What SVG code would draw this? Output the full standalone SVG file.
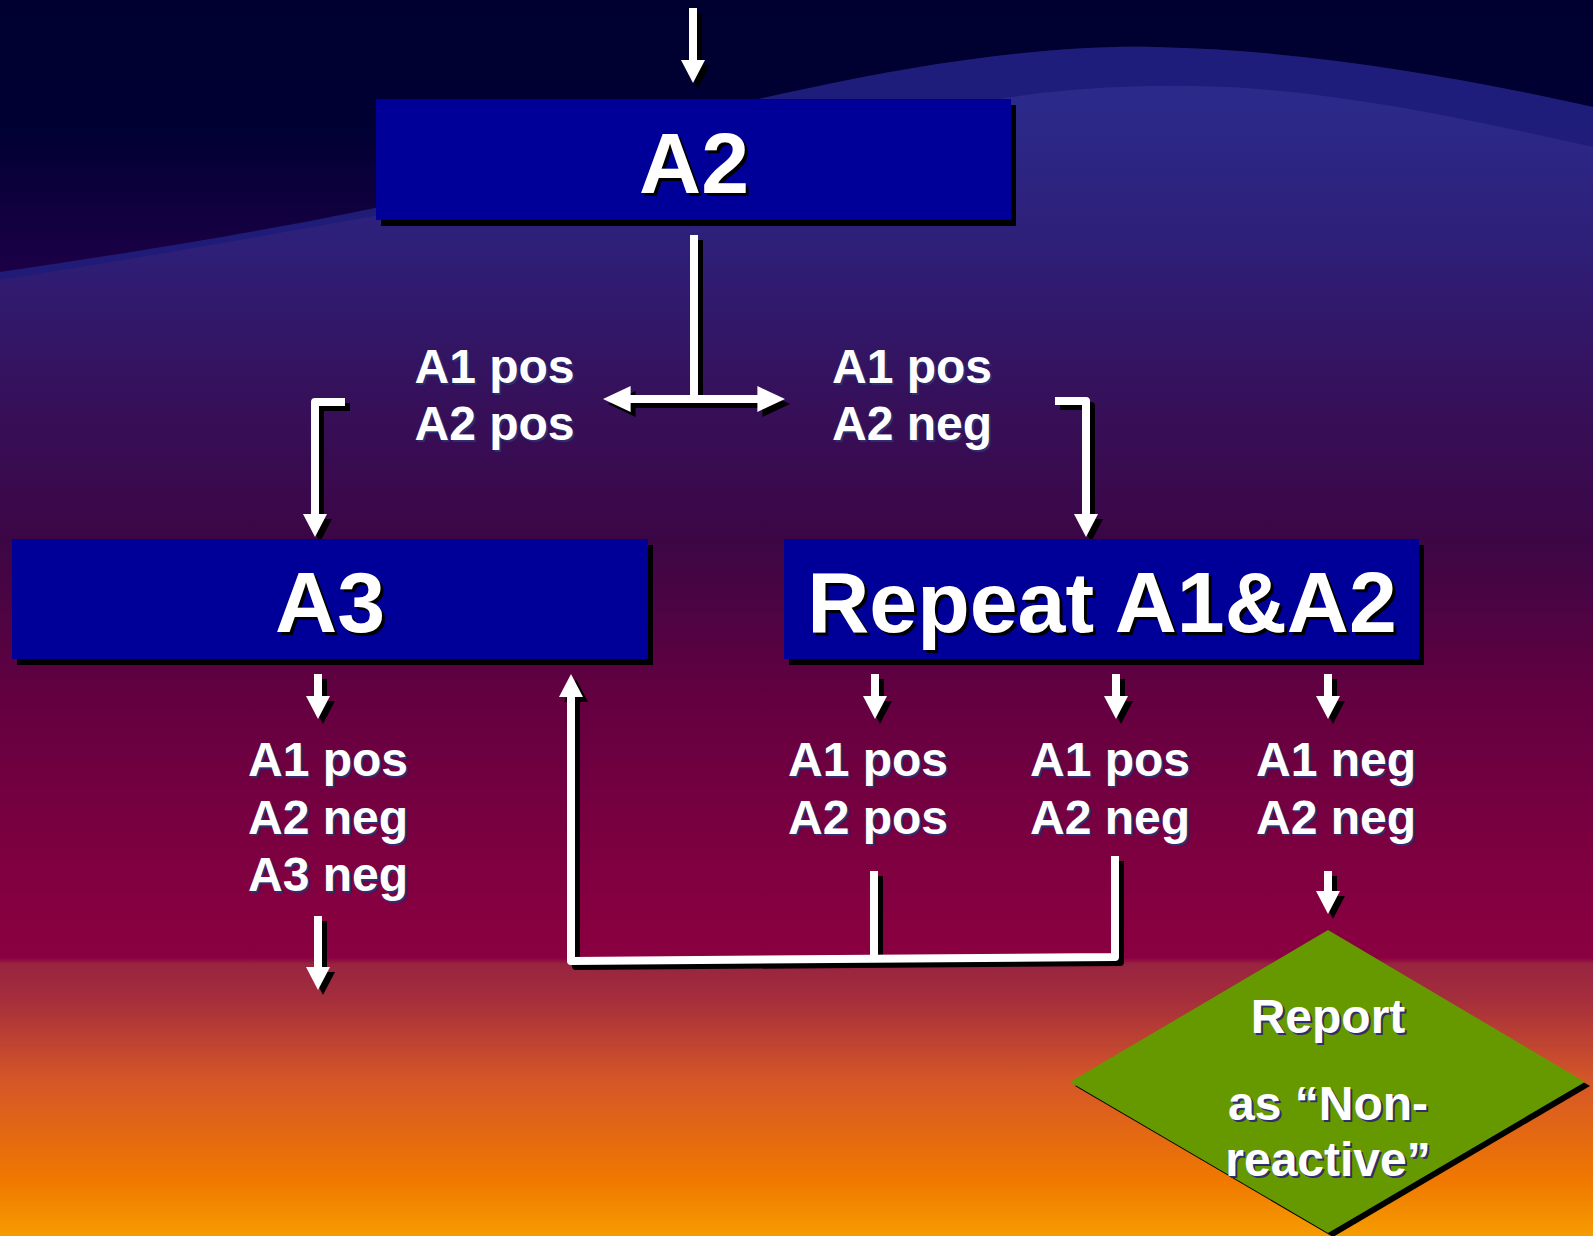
<svg xmlns="http://www.w3.org/2000/svg" xmlns:xlink="http://www.w3.org/1999/xlink" width="1593" height="1236" viewBox="0 0 1593 1236">
  <style>
    .big{font-family:"Liberation Sans",Arial,sans-serif;font-weight:bold;font-size:86px;text-anchor:middle}
    .lbl{font-family:"Liberation Sans",Arial,sans-serif;font-weight:bold;font-size:48px}
    .dia{font-family:"Liberation Sans",Arial,sans-serif;font-weight:bold;font-size:48px;text-anchor:middle}
    .fg{fill:#ffffff}
    .bsh{fill:#000000}
    .tsh{fill:#2e2e72}
    .box{fill:#000099}
    .boxsh{fill:#000000}
    .ln{fill:none}
  </style>
  <defs>
    <linearGradient id="bg" x1="0" y1="0" x2="0" y2="1236" gradientUnits="userSpaceOnUse">
      <stop offset="0" stop-color="#2b2a8a"/>
      <stop offset="0.081" stop-color="#2b2a8a"/>
      <stop offset="0.2" stop-color="#2e1f78"/>
      <stop offset="0.324" stop-color="#36105a"/>
      <stop offset="0.437" stop-color="#3c0645"/>
      <stop offset="0.566" stop-color="#640040"/>
      <stop offset="0.728" stop-color="#850040"/>
      <stop offset="0.775" stop-color="#8a0040"/>
      <stop offset="0.780" stop-color="#982440"/>
      <stop offset="0.809" stop-color="#a52e3c"/>
      <stop offset="0.874" stop-color="#d55628"/>
      <stop offset="0.955" stop-color="#f07800"/>
      <stop offset="1" stop-color="#f69c00"/>
    </linearGradient>
    <linearGradient id="dark" x1="0" y1="0" x2="0" y2="280" gradientUnits="userSpaceOnUse">
      <stop offset="0" stop-color="#000030"/>
      <stop offset="0.45" stop-color="#000033"/>
      <stop offset="1" stop-color="#1e0048"/>
    </linearGradient>
    <path id="ah" d="M-12,-23 L12,-23 L0,0 Z" stroke="none"/>
  </defs>

  <!-- background -->
  <rect x="0" y="0" width="1593" height="1236" fill="url(#bg)"/>
  <path d="M0,272 C150,250 280,228 375,208 C520,175 650,120 800,90 C930,62 1050,45 1154,47 C1300,50 1450,75 1593,107 L1593,147 C1450,115 1320,88 1195,86 C1120,85 1060,90 1012,97 C800,130 500,200 0,280 Z" fill="#1d1b78" opacity="0.85"/>
  <path d="M0,0 H1593 V107 C1450,75 1300,50 1154,47 C1050,45 930,62 800,90 C650,120 520,175 375,208 C280,228 150,250 0,272 Z" fill="url(#dark)"/>

  <!-- connectors -->
  <g id="connectors">
    <use href="#conn-main" transform="translate(5,5)" fill="#000" stroke="#000"/>
    <g fill="#fff" stroke="#fff">
      <g id="conn-main" stroke-width="8" stroke-linejoin="round">
        <!-- top incoming arrow -->
        <path class="ln" d="M693,8 V62"/>
        <use href="#ah" transform="translate(693,83)"/>
        <!-- A2 stem and split -->
        <path class="ln" d="M694,235 V399"/>
        <path class="ln" d="M628,399 H760"/>
        <use href="#ah" transform="translate(603,399) rotate(90) scale(1.08,1.2)"/>
        <use href="#ah" transform="translate(785,399) rotate(-90) scale(1.08,1.2)"/>
        <!-- brackets to A3 and Repeat -->
        <path class="ln" d="M345,402 H315 V516"/>
        <use href="#ah" transform="translate(315,537)"/>
        <path class="ln" d="M1055,401 H1086 V516"/>
        <use href="#ah" transform="translate(1086,537)"/>
        <!-- A3 outputs -->
        <path class="ln" d="M318,674 V698"/>
        <use href="#ah" transform="translate(318,719)"/>
        <path class="ln" d="M318,916 V969"/>
        <use href="#ah" transform="translate(318,990)"/>
        <!-- Repeat outputs -->
        <path class="ln" d="M875,674 V698"/>
        <use href="#ah" transform="translate(875,719)"/>
        <path class="ln" d="M1116,674 V698"/>
        <use href="#ah" transform="translate(1116,719)"/>
        <path class="ln" d="M1328,674 V698"/>
        <use href="#ah" transform="translate(1328,719)"/>
        <path class="ln" d="M1328,871 V893"/>
        <use href="#ah" transform="translate(1328,914)"/>
        <!-- loop back to A3 -->
        <path class="ln" d="M874,871 V959"/>
        <path class="ln" d="M1115,856 V957 L571,961 V695"/>
        <use href="#ah" transform="translate(571,674) rotate(180)"/>
      </g>
    </g>
  </g>

  <!-- A2 node -->
  <g id="node-a2">
    <rect class="boxsh" x="381" y="105" width="635" height="121"/>
    <rect class="box" x="376" y="99" width="635" height="121"/>
    <text class="big bsh" x="697" y="196">A2</text>
    <text class="big fg" x="694" y="193">A2</text>
  </g>

  <!-- labels after A2 -->
  <g id="label-a2-left">
    <text class="lbl tsh" x="416.5" y="385">A1 pos</text>
    <text class="lbl fg" x="414.5" y="383">A1 pos</text>
    <text class="lbl tsh" x="416.5" y="442">A2 pos</text>
    <text class="lbl fg" x="414.5" y="440">A2 pos</text>
  </g>
  <g id="label-a2-right">
    <text class="lbl tsh" x="834" y="385">A1 pos</text>
    <text class="lbl fg" x="832" y="383">A1 pos</text>
    <text class="lbl tsh" x="834" y="442">A2 neg</text>
    <text class="lbl fg" x="832" y="440">A2 neg</text>
  </g>

  <!-- A3 node -->
  <g id="node-a3">
    <rect class="boxsh" x="17" y="545" width="636" height="120"/>
    <rect class="box" x="12" y="539" width="636" height="120"/>
    <text class="big bsh" x="333" y="635">A3</text>
    <text class="big fg" x="330" y="632">A3</text>
  </g>

  <!-- Repeat node -->
  <g id="node-repeat">
    <rect class="boxsh" x="789" y="545" width="635" height="120"/>
    <rect class="box" x="784" y="539" width="635" height="120"/>
    <text class="big bsh" x="1105" y="635">Repeat A1&amp;A2</text>
    <text class="big fg" x="1102" y="632">Repeat A1&amp;A2</text>
  </g>

  <!-- A3 result -->
  <g id="label-a3-result">
    <text class="lbl tsh" x="250" y="778">A1 pos</text>
    <text class="lbl fg" x="248" y="776">A1 pos</text>
    <text class="lbl tsh" x="250" y="836">A2 neg</text>
    <text class="lbl fg" x="248" y="834">A2 neg</text>
    <text class="lbl tsh" x="250" y="893">A3 neg</text>
    <text class="lbl fg" x="248" y="891">A3 neg</text>
  </g>

  <!-- Repeat results -->
  <g id="label-repeat-pospos">
    <text class="lbl tsh" x="790" y="778">A1 pos</text>
    <text class="lbl fg" x="788" y="776">A1 pos</text>
    <text class="lbl tsh" x="790" y="836">A2 pos</text>
    <text class="lbl fg" x="788" y="834">A2 pos</text>
  </g>
  <g id="label-repeat-posneg">
    <text class="lbl tsh" x="1032" y="778">A1 pos</text>
    <text class="lbl fg" x="1030" y="776">A1 pos</text>
    <text class="lbl tsh" x="1032" y="836">A2 neg</text>
    <text class="lbl fg" x="1030" y="834">A2 neg</text>
  </g>
  <g id="label-repeat-negneg">
    <text class="lbl tsh" x="1258" y="778">A1 neg</text>
    <text class="lbl fg" x="1256" y="776">A1 neg</text>
    <text class="lbl tsh" x="1258" y="836">A2 neg</text>
    <text class="lbl fg" x="1256" y="834">A2 neg</text>
  </g>

  <!-- Report diamond -->
  <g id="node-report">
    <polygon points="1333,934 1590,1086 1333,1237 1075,1086" fill="#000"/>
    <polygon points="1328,930 1585,1082 1328,1233 1070,1082" fill="#669900"/>
    <text class="dia tsh" x="1330" y="1035">Report</text>
    <text class="dia fg" x="1328" y="1033">Report</text>
    <text class="dia tsh" x="1330" y="1122">as “Non-</text>
    <text class="dia fg" x="1328" y="1120">as “Non-</text>
    <text class="dia tsh" x="1330" y="1178">reactive”</text>
    <text class="dia fg" x="1328" y="1176">reactive”</text>
  </g>
</svg>
